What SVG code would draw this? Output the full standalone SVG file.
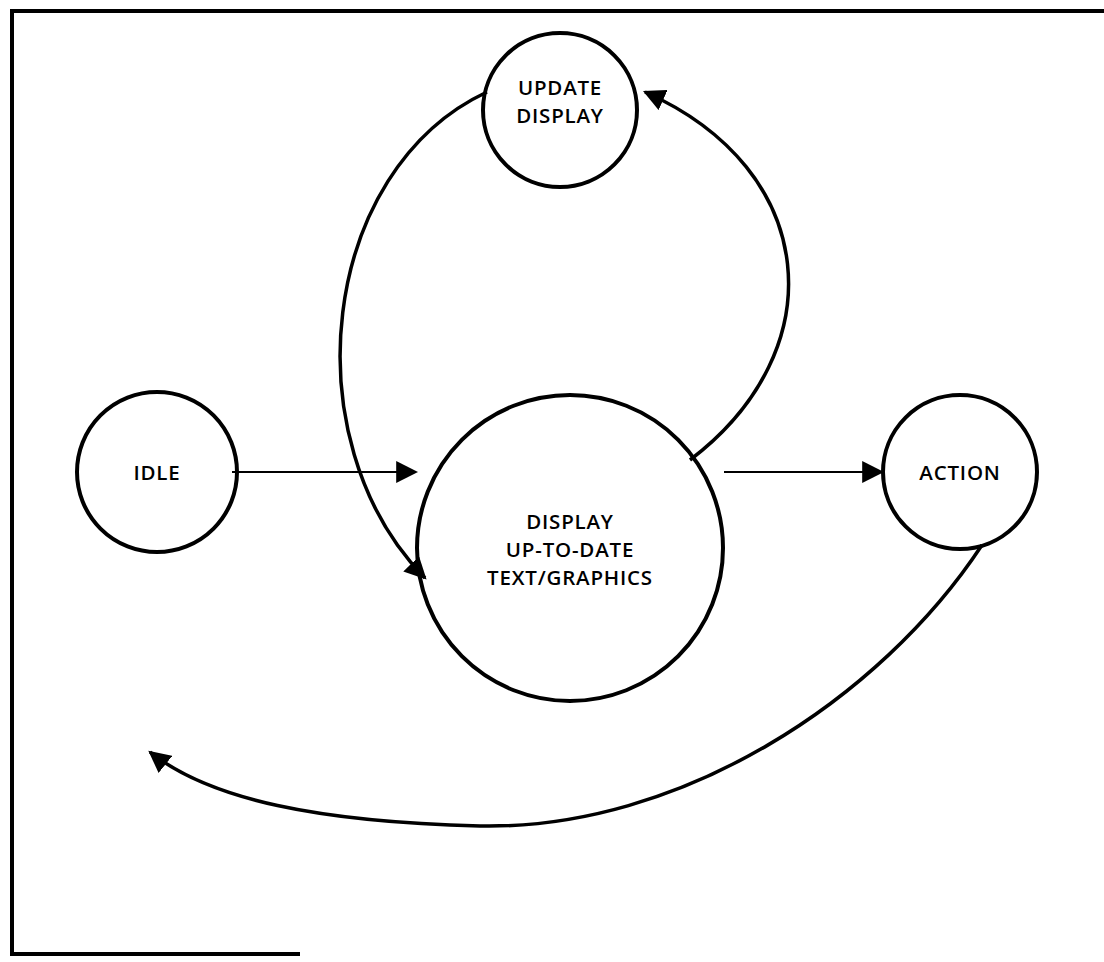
<svg xmlns="http://www.w3.org/2000/svg" width="1104" height="962" viewBox="0 0 1104 962">
  <style>
    .node { fill: none; stroke: #000; stroke-width: 4; }
    .label { font-family: "Open Sans", "Liberation Sans", sans-serif; font-size: 20.5px; letter-spacing: 0.8px; font-weight: 600; fill: #000; text-anchor: middle; }
    .edge { fill: none; stroke: #000; stroke-width: 3.5; }
    .thin { fill: none; stroke: #000; stroke-width: 2; }
    .frame { fill: none; stroke: #000; stroke-width: 4; }
  </style>
  <defs>
    <marker id="arrow" viewBox="0 0 10 10" refX="9" refY="5" markerWidth="22" markerHeight="22" markerUnits="userSpaceOnUse" orient="auto">
      <path d="M0,0 L10,5 L0,10 z" fill="#000"/>
    </marker>
  </defs>
  <rect width="1104" height="962" fill="#fff"/>

  <!-- page frame: left, top and bottom borders -->
  <path class="frame" d="M1104,11 L12,11 L12,954 L300,954"/>

  <g id="update-display">
    <circle class="node" cx="560" cy="110" r="77"/>
    <text class="label" x="560" y="95">UPDATE</text>
    <text class="label" x="560" y="123">DISPLAY</text>
  </g>

  <g id="idle">
    <circle class="node" cx="157" cy="472" r="80"/>
    <text class="label" x="157" y="480">IDLE</text>
  </g>

  <g id="display">
    <circle class="node" cx="570" cy="548" r="153"/>
    <text class="label" x="570" y="529">DISPLAY</text>
    <text class="label" x="570" y="557">UP-TO-DATE</text>
    <text class="label" x="570" y="585">TEXT/GRAPHICS</text>
  </g>

  <g id="action">
    <circle class="node" cx="960" cy="472" r="77"/>
    <text class="label" x="960" y="480">ACTION</text>
  </g>

  <g id="connectors">
    <path class="thin" d="M232,472 L416,472" marker-end="url(#arrow)"/>
    <path class="thin" d="M724,472 L882,472" marker-end="url(#arrow)"/>
    <path class="edge" d="M487,92 C320,170 290,440 425,578" marker-end="url(#arrow)"/>
    <path class="edge" d="M690,460 C835,350 820,170 645,92" marker-end="url(#arrow)"/>
    <path class="edge" d="M982,545 C880,700 680,830 480,826 C320,822 210,800 150,752" marker-end="url(#arrow)"/>
  </g>
</svg>
